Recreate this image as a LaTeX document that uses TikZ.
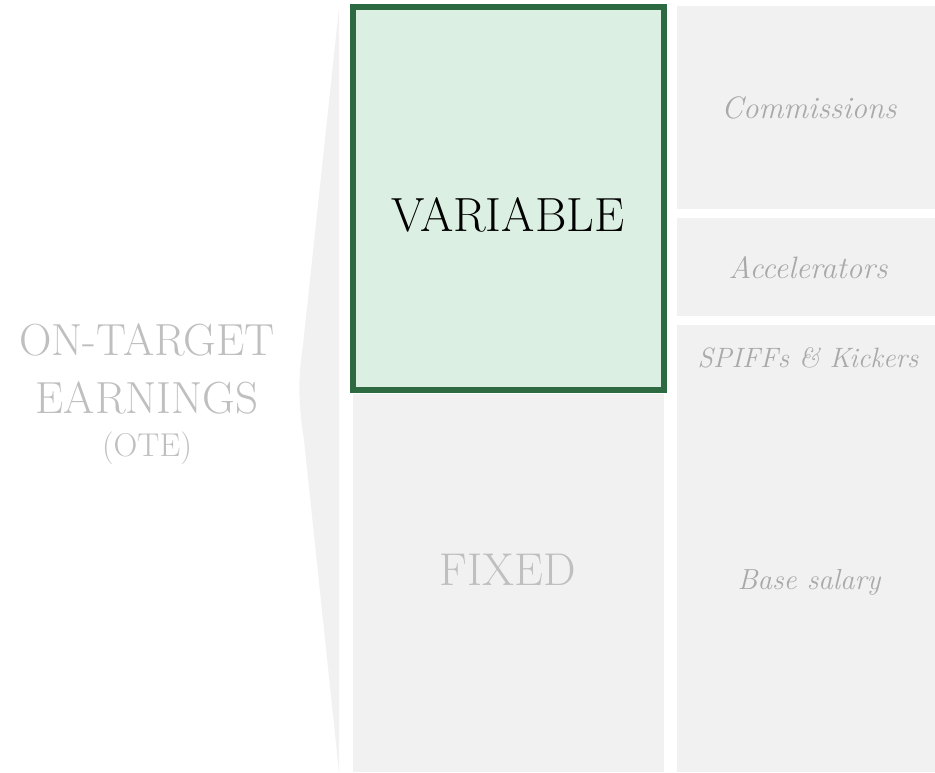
\documentclass[tikz,border=0pt]{standalone}
\usepackage{fontspec}
\definecolor{boxgray}{HTML}{F1F1F1}
\definecolor{labgray}{HTML}{BFBFBF}
\definecolor{itgray}{HTML}{A9A9A9}
\definecolor{varfill}{HTML}{DBF0E2}
\definecolor{varline}{HTML}{2D6A41}
\begin{document}
\begin{tikzpicture}[x=1pt,y=-1pt,
  graybox/.style={fill=boxgray,draw=none,inner sep=0pt},
  biglab/.style={text=labgray,font=\fontsize{45}{48}\selectfont,inner sep=0pt},
  itlab/.style={text=itgray,inner sep=0pt}]
\useasboundingbox (0,0) rectangle (935,772);
% wedge
\fill[boxgray] (339,8) -- (303,345) .. controls (298,378) and (298,402) .. (304,440) -- (339,772) -- cycle;
% boxes
\node[graybox,minimum width=311pt,minimum height=378pt] (fixedbox) at (508.5,583) {};
\node[graybox,minimum width=258pt,minimum height=203pt] (commbox) at (806,107.5) {};
\node[graybox,minimum width=258pt,minimum height=98pt] (accbox) at (806,267) {};
\node[graybox,minimum width=258pt,minimum height=447pt] (basebox) at (806,548.5) {};
\node[fill=varfill,draw=varline,line width=6pt,minimum width=311pt,minimum height=383pt,inner sep=0pt] (varbox) at (508.5,198.5) {};
% labels
\node[biglab] (ot1) at (147,340) {ON-TARGET};
\node[biglab] (ot2) at (147,398) {EARNINGS};
\node[text=labgray,font=\fontsize{33}{35}\selectfont,inner sep=0pt] (ot3) at (147,448) {(OTE)};
\node[text=black,font=\fontsize{48}{50}\selectfont,inner sep=0pt] (varlab) at (508,215) {VARIABLE};
\node[biglab,font=\fontsize{46}{48}\selectfont] (fixlab) at (508,570) {FIXED};
\node[itlab,font=\fontsize{31}{33}\selectfont\itshape] (commlab) at (809,108) {Commissions};
\node[itlab,font=\fontsize{31}{33}\selectfont\itshape] (acclab) at (808,268) {Accelerators};
\node[itlab,font=\fontsize{28}{30}\selectfont\itshape] (spifflab) at (808,358) {SPIFFs \& Kickers};
\node[itlab,font=\fontsize{29}{31}\selectfont\itshape] (baselab) at (809,582) {Base salary};
\end{tikzpicture}
\end{document}
